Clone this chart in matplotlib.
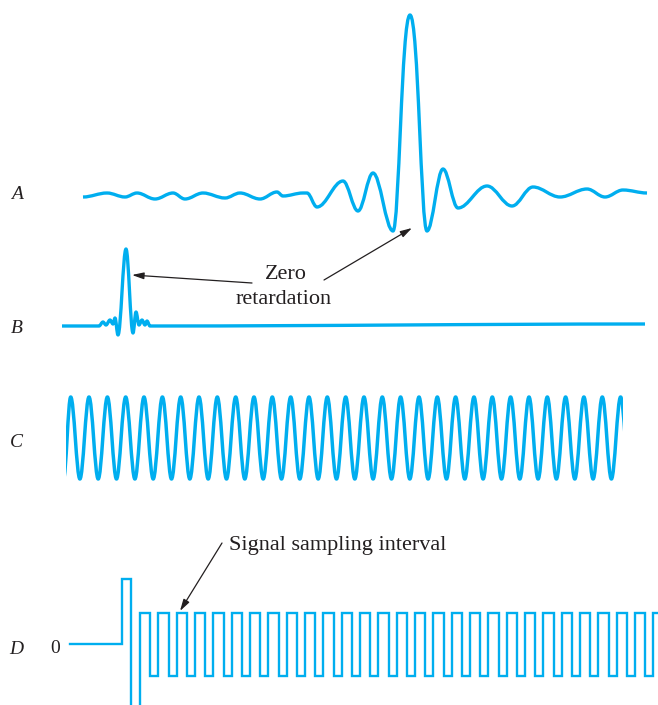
import matplotlib
matplotlib.use("Agg")
import matplotlib.pyplot as plt
from matplotlib.path import Path
from matplotlib.patches import PathPatch, Rectangle

# ---------------- data ----------------
# Panel A: interferogram of broad-band source (position, amplitude)
A_pos = [83, 107, 125, 137, 155, 173, 185, 203, 225, 240, 260, 277, 283, 303, 307,
         317, 343, 358, 373, 393, 410, 427, 443, 458, 487, 512, 533, 560, 587, 605, 623, 647]
A_amp = [-2, 2, -2, 2, -4, 2, -4, 2, -3, 2, -4, 3, -1, 2, 2,
         -12, 14, -16, 22, -36, 180, -36, 26, -13, 9, -11, 8, -2, 6, -2, 5, 2]

# Panel B: interferogram with a narrow burst near zero retardation
B_pos = [62, 99, 103, 106, 110, 113, 115, 118, 126, 133, 136, 139, 142, 145, 147, 150, 155, 645]
B_amp = [0, 0, 4, 1, 6, 2, 8, -9, 77, -7, 14, 1, 6, 1, 5, 0, 0, 2]

# Panel C: monochromatic reference signal (peak and trough positions)
C_peaks = [70.7, 89.0, 107.4, 125.7, 144.0, 162.4, 180.7, 199.0, 217.3, 235.7,
           254.0, 272.3, 290.7, 309.0, 327.3, 345.7, 364.0, 382.3, 400.6, 419.0,
           437.3, 455.6, 474.0, 492.3, 510.6, 529.0, 547.3, 565.6, 583.9, 602.3, 620.6]
C_troughs = [63.5, 79.9, 98.2, 116.5, 134.9, 153.2, 171.5, 189.8, 208.2, 226.5,
             244.8, 263.2, 281.5, 299.8, 318.2, 336.5, 354.8, 373.1, 391.5, 409.8,
             428.1, 446.5, 464.8, 483.1, 501.5, 519.8, 538.1, 556.4, 574.8, 593.1,
             611.4, 629.8]
C_amp = 41
C_start, C_end = 66, 622.5

# Panel D: sampling pulses (rising and falling edge positions)
D_rise = [139.5, 158.0, 176.5, 194.5, 213.0, 231.5, 249.5, 268.0, 286.5, 304.5,
          323.0, 341.5, 359.5, 378.0, 396.5, 414.5, 433.0, 451.5, 469.5, 488.0,
          506.5, 524.5, 543.0, 561.5, 579.5, 598.0, 616.5, 634.5, 653.0]
D_fall = [150.0, 168.5, 187.0, 205.0, 223.5, 242.0, 260.0, 278.5, 297.0, 315.0,
          333.5, 352.0, 370.0, 388.5, 407.0, 425.0, 443.5, 462.0, 480.0, 498.5,
          517.0, 535.0, 553.5, 572.0, 590.0, 608.5, 627.0, 645.0, 670.0]
D_start = 70
D_step_up, D_step_down = 121.5, 130.5
D_first_high, D_first_low = 65, -70
D_high, D_low = 31, -32

panel_labels = ["A", "B", "C", "D"]

# ---------------- layout / style ----------------
W, H = 658, 705
base = {"A": 195, "B": 326, "C": 438, "D": 644}
label_y = {"A": 199, "B": 333, "C": 447, "D": 654}
CYAN = "#00AEEF"
INK = "#231F20"
SERIF = ["Liberation Serif", "DejaVu Serif"]

fig = plt.figure(figsize=(W / 100, H / 100), dpi=100)
ax = fig.add_axes([0, 0, 1, 1])
ax.set_xlim(0, W)
ax.set_ylim(H, 0)
ax.axis("off")


def smooth(xs, ys, cs=None, c=0.3642):
    verts = [(xs[0], ys[0])]
    codes = [Path.MOVETO]
    for i in range(len(xs) - 1):
        dx = xs[i + 1] - xs[i]
        c0 = cs[i] if cs else c
        c1 = cs[i + 1] if cs else c
        verts += [(xs[i] + c0 * dx, ys[i]), (xs[i + 1] - c1 * dx, ys[i + 1]), (xs[i + 1], ys[i + 1])]
        codes += [Path.CURVE4] * 3
    return Path(verts, codes)


def add_curve(xs, ys, lw, clip=None, cs=None):
    p = PathPatch(smooth(xs, ys, cs), facecolor="none", edgecolor=CYAN, lw=lw,
                  capstyle="butt", joinstyle="round")
    ax.add_patch(p)
    if clip is not None:
        r = Rectangle((clip[0], 0), clip[1] - clip[0], H, transform=ax.transData)
        p.set_clip_path(r)


# A (flatter handle at the tall central maximum)
A_ys = [base["A"] - a for a in A_amp]
A_cs = [0.3642] * len(A_pos)
A_cs[A_amp.index(max(A_amp))] = 0.5
add_curve(A_pos, A_ys, 2.4, cs=A_cs)
# B
add_curve(B_pos, [base["B"] - a for a in B_amp], 2.4)
# C
ext = sorted([(x, C_amp) for x in C_peaks] + [(x, -C_amp) for x in C_troughs])
cx = [e[0] for e in ext]
cy = [base["C"] - e[1] for e in ext]
add_curve(cx, cy, 2.5, clip=(C_start, C_end))

# D
dx = [D_start, D_step_up, D_step_up, D_step_down, D_step_down, D_rise[0]]
dy = [0, 0, D_first_high, D_first_high, D_first_low, D_first_low]
for r, f in zip(D_rise, D_fall):
    dx += [r, r, f, f]
    dy += [dy[-1], D_high, D_high, D_low]
ax.plot(dx, [base["D"] - v for v in dy], color=CYAN, lw=1.7, solid_joinstyle="miter")

# labels
for lab in panel_labels:
    ax.text(16.5, label_y[lab], lab, family=SERIF, style="italic", fontsize=14,
            color=INK, ha="center", va="baseline")
ax.text(55, 653, "0", family=SERIF, fontsize=14, color=INK, ha="center", va="baseline")

ax.text(286, 279, "Zero", family=SERIF, fontsize=16, color=INK, ha="center", va="baseline")
ax.text(284, 304, "retardation", family=SERIF, fontsize=16, color=INK, ha="center", va="baseline")
ax.text(229, 550, "Signal sampling interval", family=SERIF, fontsize=16, color=INK,
        ha="left", va="baseline")

aprops = dict(arrowstyle="-|>,head_length=0.7,head_width=0.2", color=INK, lw=0.9,
              shrinkA=0, shrinkB=0)
ax.annotate("", xy=(132, 275), xytext=(252, 283), arrowprops=aprops)
ax.annotate("", xy=(412, 228), xytext=(324, 280), arrowprops=aprops)
ax.annotate("", xy=(180, 611), xytext=(222, 543), arrowprops=aprops)

fig.savefig("out.png", dpi=100, facecolor="white")
